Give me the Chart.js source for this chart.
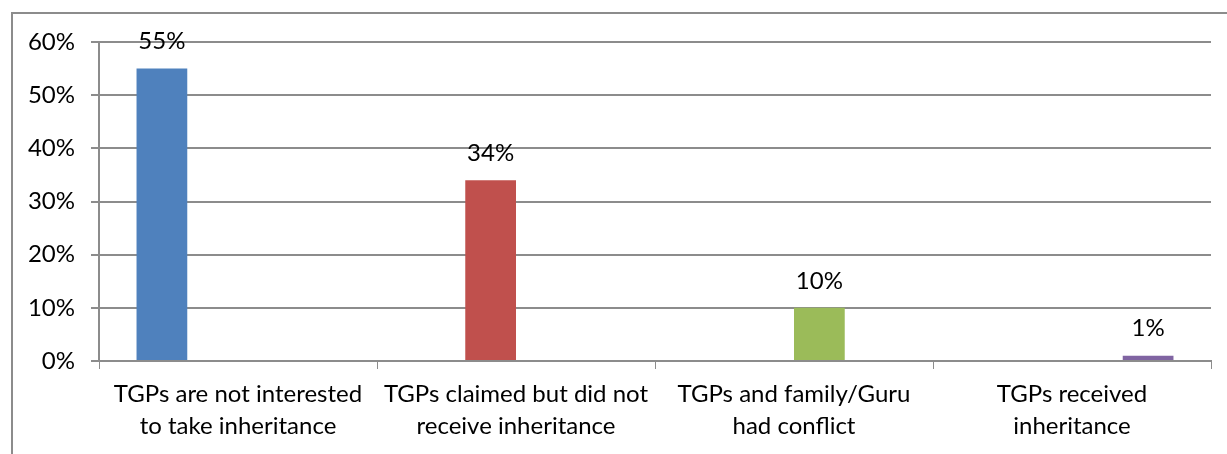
<!DOCTYPE html>
<html>
<head>
<meta charset="utf-8">
<script src="https://cdn.jsdelivr.net/npm/chart.js@4.4.1/dist/chart.umd.min.js"></script>
<style>
	html, body { margin: 0; padding: 0; background: #fff; overflow: hidden; }
	#frame { position: absolute; left: 11px; top: 12px; width: 1300px; height: 500px; border: 2px solid #8c8c8c; box-sizing: border-box; }
	#wrap { position: absolute; left: 0; top: 0; width: 1227px; height: 454px; }
</style>
</head>
<body>
<div id="frame"></div>
<div id="wrap"><canvas id="mycanvas" width="1227" height="454"></canvas></div>
<script>
var categories = [
	["TGPs are not interested", "to take inheritance"],
	["TGPs claimed but did not", "receive inheritance"],
	["TGPs and family/Guru", "had conflict"],
	["TGPs received", "inheritance"]
];
var values = [55, 34, 10, 1];
var colors = ["#4F81BD", "#C0504D", "#9BBB59", "#8064A2"];
var yTicks = [0, 10, 20, 30, 40, 50, 60];

var FONT = "Lato";

// one dataset per category so each bar sits in its own slot, like the original
var datasets = [];
for (var i in values) {
	var d = [null, null, null, null];
	d[i] = values[i];
	datasets.push({
		label: "s" + i,
		data: d,
		backgroundColor: colors[i],
		borderWidth: 0,
		categoryPercentage: 0.73,
		barPercentage: 1.0
	});
}

var valueLabels = {
	id: "valueLabels",
	afterDatasetsDraw: function(chart) {
		var ctx = chart.ctx;
		ctx.save();
		ctx.fillStyle = "#000";
		ctx.font = "24px " + FONT;
		ctx.textAlign = "center";
		ctx.textBaseline = "middle";
		chart.data.datasets.forEach(function(ds, di) {
			var meta = chart.getDatasetMeta(di);
			meta.data.forEach(function(bar, j) {
				if (ds.data[j] === null) return;
				ctx.fillText(ds.data[j] + "%", bar.x, bar.y - 27);
			});
		});
		ctx.restore();
	}
};

var ctx = document.getElementById("mycanvas");
var barGraph = new Chart(ctx, {
	type: "bar",
	data: { labels: categories, datasets: datasets },
	options: {
		responsive: false,
		animation: false,
		layout: { padding: { top: 42, right: 16, left: 0, bottom: 0 } },
		plugins: { legend: { display: false }, tooltip: { enabled: false } },
		scales: {
			x: {
				grid: { display: true, drawOnChartArea: false, color: "#8c8c8c", tickLength: 8, offset: true },
				border: { color: "#8c8c8c", width: 2 },
				ticks: { color: "#000", font: { family: FONT, size: 24, lineHeight: 1.33 }, padding: 9, maxRotation: 0, autoSkip: false },
				afterFit: function(scale) { scale.height = 93; }
			},
			y: {
				min: 0,
				max: 60,
				afterBuildTicks: function(scale) { scale.ticks = yTicks.map(function(v) { return { value: v }; }); },
				grid: { color: "#8c8c8c", lineWidth: 2, tickLength: 8 },
				border: { color: "#8c8c8c", width: 2 },
				ticks: {
					color: "#000",
					font: { family: FONT, size: 24 },
					padding: 16,
					callback: function(v) { return v + "%"; }
				},
				afterFit: function(scale) { scale.width = 99; }
			}
		}
	},
	plugins: [valueLabels]
});
</script>
</body>
</html>
